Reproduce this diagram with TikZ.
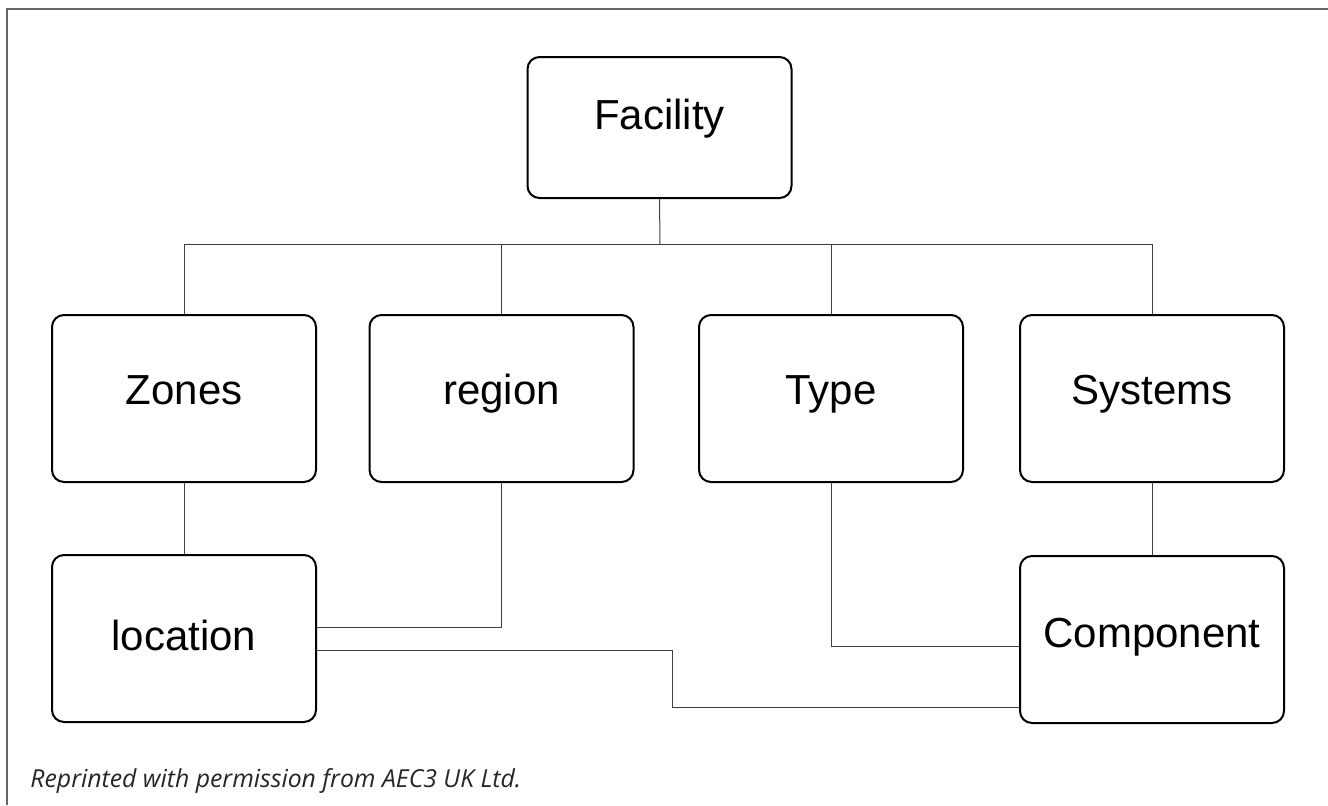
\documentclass[tikz,border=0pt]{standalone}
\usepackage{fontspec}
\setmainfont{Liberation Sans}
\newfontfamily\notefont{Open Sans}
\tikzset{
    entity/.style={draw, line width=1pt, rounded corners=6pt, inner sep=0pt,
        minimum width=132pt, minimum height=83.5pt, font=\fontsize{21}{25}\selectfont,
        text height=15pt, text depth=9pt},
    link/.style={line width=0.5pt, draw=black!75},
    frame/.style={line width=1pt, draw=black!60}
}
\begin{document}
\begin{tikzpicture}[x=0.5pt, y=-0.5pt]
    \useasboundingbox (0,0) rectangle (1328,805);
    \draw[frame] (7,805) -- (7,8.5) -- (1328,8.5);

    \node[entity, minimum height=70.5pt, text depth=13pt] (facility) at (659.5,127.5) {Facility};
    \node[entity] (zones) at (184,398.5) {Zones};
    \node[entity] (region) at (501.5,398.5) {region};
    \node[entity] (type) at (831,398.5) {Type};
    \node[entity] (systems) at (1152,398.5) {Systems};
    \node[entity, text depth=3.5pt] (location) at (184,638.5) {location};
    \node[entity, text depth=7.5pt] (component) at (1152,639.5) {Component};

    \coordinate (bus) at (660,244);
    \coordinate (rowA) at (0,627);
    \coordinate (rowB) at (0,650);
    \coordinate (rowC) at (0,646);
    \coordinate (jog) at (672,707);

    \draw[link] (facility.south) -- (bus);
    \draw[link] (zones.north) |- (systems.north |- bus) -- (systems.north);
    \draw[link] (region.north) -- (region.north |- bus);
    \draw[link] (type.north) -- (type.north |- bus);
    \draw[link] (zones.south) -- (location.north);
    \draw[link] (systems.south) -- (component.north);
    \draw[link] (region.south) |- (location.east |- rowA);
    \draw[link] (location.east |- rowB) -| (jog) -- (component.west |- jog);
    \draw[link] (type.south) |- (component.west |- rowC);

    \node[anchor=base west, inner sep=0pt, text=black!85,
        font=\notefont\itshape\fontsize{12.4}{14}\selectfont] (credit) at (30,787)
        {Reprinted with permission from AEC3 UK Ltd.};
\end{tikzpicture}
\end{document}
